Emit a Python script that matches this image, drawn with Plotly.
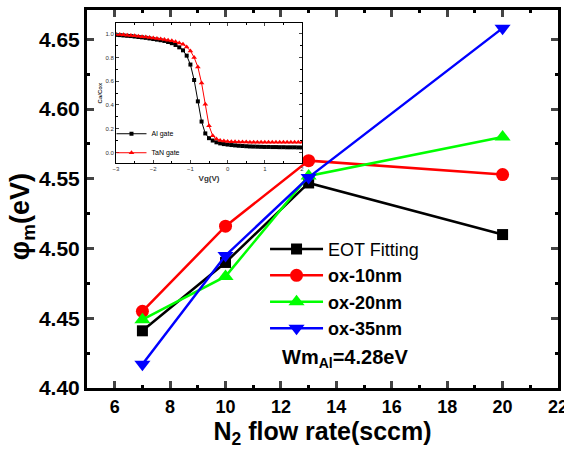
import plotly.graph_objects as go

# ---- main data ----
n2_flow = [7, 10, 13, 20]
eot_fitting = [4.441, 4.490, 4.547, 4.510]
ox_10nm = [4.455, 4.516, 4.563, 4.553]
ox_20nm = [4.449, 4.480, 4.552, 4.580]
ox_35nm = [4.417, 4.495, 4.551, 4.658]

# ---- inset data (C-V curves) ----
vg = [round(-3.0 + 0.1 * i, 1) for i in range(51)]
al_gate = [0.990, 0.988, 0.985, 0.982, 0.980, 0.976, 0.972, 0.969, 0.965, 0.960,
           0.955, 0.950, 0.945, 0.939, 0.930, 0.920, 0.905, 0.885, 0.860, 0.815,
           0.740, 0.610, 0.430, 0.260, 0.160, 0.120, 0.100, 0.085, 0.076, 0.070,
           0.066, 0.062, 0.059, 0.056, 0.054, 0.052, 0.050, 0.049, 0.048, 0.047,
           0.046, 0.046, 0.045, 0.045, 0.044, 0.044, 0.043, 0.043, 0.043, 0.042, 0.042]
tan_gate = [0.995, 0.993, 0.990, 0.987, 0.985, 0.982, 0.978, 0.975, 0.972, 0.968,
            0.964, 0.960, 0.955, 0.950, 0.945, 0.940, 0.932, 0.922, 0.910, 0.888,
            0.855, 0.800, 0.720, 0.585, 0.405, 0.225, 0.140, 0.112, 0.100, 0.095,
            0.092, 0.090, 0.089, 0.088, 0.087, 0.087, 0.086, 0.086, 0.086, 0.085,
            0.085, 0.085, 0.085, 0.085, 0.085, 0.085, 0.085, 0.085, 0.085, 0.085, 0.085]

FONT = "Liberation Sans, Arial, sans-serif"

fig = go.Figure()

main_series = [
    ("EOT Fitting", eot_fitting, "#000000", "square", 11),
    ("<b>ox-10nm</b>", ox_10nm, "#FF0000", "circle", 13),
    ("<b>ox-20nm</b>", ox_20nm, "#00FF00", "triangle-up", 14),
    ("<b>ox-35nm</b>", ox_35nm, "#0000FF", "triangle-down", 14),
]
for name, ys, col, sym, sz in main_series:
    fig.add_trace(go.Scatter(
        x=n2_flow, y=ys, name=name, mode="lines+markers",
        line=dict(color=col, width=2.5),
        marker=dict(symbol=sym, size=sz, color=col),
        xaxis="x", yaxis="y", legend="legend",
    ))

fig.add_trace(go.Scatter(
    x=vg, y=al_gate, name="Al gate", mode="lines+markers",
    line=dict(color="#000000", width=1),
    marker=dict(symbol="square", size=4, color="#000000"),
    xaxis="x2", yaxis="y2", legend="legend2",
))
fig.add_trace(go.Scatter(
    x=vg, y=tan_gate, name="TaN gate", mode="lines+markers",
    line=dict(color="#FF0000", width=1),
    marker=dict(symbol="triangle-up", size=5, color="#FF0000"),
    xaxis="x2", yaxis="y2", legend="legend2",
))

axis_common = dict(
    showline=True, linecolor="black", mirror="allticks", ticks="inside",
    showgrid=False, zeroline=False, automargin=False,
)

fig.update_layout(
    width=564, height=454,
    margin=dict(l=87, r=6, t=10, b=66, autoexpand=False),
    paper_bgcolor="white", plot_bgcolor="white",
    font=dict(family=FONT, color="black"),
    xaxis=dict(
        **axis_common, domain=[0, 1], anchor="y",
        range=[5, 22], tickmode="linear", tick0=6, dtick=2,
        linewidth=3, tickwidth=3, ticklen=7, ticklabeloverflow="allow",
        minor=dict(ticks="inside", dtick=1, ticklen=3, tickwidth=3, tickcolor="black"),
        tickfont=dict(size=18, family=FONT, color="black", weight="bold"),
        title=dict(text="<b>N<sub>2</sub> flow rate(sccm)</b>", font=dict(size=25), standoff=4),
    ),
    yaxis=dict(
        **axis_common, domain=[0, 1], anchor="x",
        range=[4.40, 4.671], tickmode="linear", tick0=4.40, dtick=0.05, tickformat=".2f",
        linewidth=3, tickwidth=3, ticklen=7,
        minor=dict(ticks="inside", dtick=0.025, ticklen=3, tickwidth=3, tickcolor="black"),
        tickfont=dict(size=21, family=FONT, color="black", weight="bold"),
    ),
    xaxis2=dict(
        **axis_common, domain=[0.0616, 0.4565], anchor="y2",
        range=[-3, 2], tickmode="linear", tick0=-3, dtick=1,
        linewidth=1, tickwidth=1, ticklen=3,
        minor=dict(ticks="inside", dtick=0.5, ticklen=2, tickwidth=1, tickcolor="black"),
        tickfont=dict(size=6, family=FONT, color="#333333"),
        title=dict(text="<b>Vg(V)</b>", font=dict(size=8, color="#333333"), standoff=4),
    ),
    yaxis2=dict(
        **axis_common, domain=[0.595, 0.9656], anchor="x2",
        range=[-0.09, 1.09], tickmode="linear", tick0=0, dtick=0.2, tickformat=".1f",
        linewidth=1, tickwidth=1, ticklen=3,
        minor=dict(ticks="inside", dtick=0.1, ticklen=2, tickwidth=1, tickcolor="black"),
        tickfont=dict(size=6, family=FONT, color="#333333"),
        title=dict(text="<b>Ca/Cox</b>", font=dict(size=6, color="#333333"), standoff=2),
    ),
    legend=dict(
        x=0.378, y=0.416, xanchor="left", yanchor="top",
        bgcolor="rgba(0,0,0,0)", borderwidth=0,
        font=dict(size=18, family=FONT, color="black"),
        tracegroupgap=0, itemsizing="trace", itemwidth=53,
    ),
    legend2=dict(
        x=0.052, y=0.711, xanchor="left", yanchor="top",
        bgcolor="rgba(0,0,0,0)", borderwidth=0,
        font=dict(size=7, family=FONT, color="black"),
        tracegroupgap=0, itemwidth=30,
    ),
    showlegend=True,
    annotations=[
        dict(
            text="<b>Wm<sub>Al</sub>=4.28eV</b>", x=0.547, y=0.079,
            xref="paper", yref="paper", showarrow=False,
            xanchor="center", yanchor="middle",
            font=dict(size=20, family=FONT, color="black"),
        ),
        dict(
            text="<b>\u03c6<sub>m</sub>(eV)</b>", x=-0.138, y=0.452,
            xref="paper", yref="paper", showarrow=False, textangle=-90,
            xanchor="center", yanchor="middle",
            font=dict(size=27, family=FONT, color="black"),
        ),
    ],
)

fig.write_html("out.html")
